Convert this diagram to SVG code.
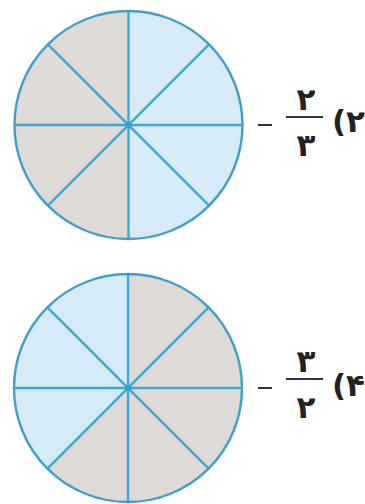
<svg xmlns="http://www.w3.org/2000/svg" width="365" height="504" viewBox="0 0 365 504">
<style>
.gray{fill:#dedad8}
.blue{fill:#d6ebf7}
.ln{stroke:#3fa7d1;stroke-width:2.4;fill:none}
.rim{stroke:#3f9fc8;stroke-width:2.4;fill:none}
.dot{fill:#2aa4d2}
.t{font-family:"DejaVu Sans",sans-serif;font-weight:bold;fill:#222;text-anchor:middle;font-size:31px}
.r{text-anchor:end}
.bar{stroke:#333;stroke-width:2}
</style>
<rect width="365" height="504" fill="#ffffff"/>
<g id="circle1">
<path class="gray" d="M128.5,125 L128.5,11 A114,114 0 0 0 128.5,239 Z"/>
<path class="blue" d="M128.5,125 L128.5,11 A114,114 0 0 1 128.5,239 Z"/>
<g class="ln">
<line x1="128.5" y1="11" x2="128.5" y2="239"/>
<line x1="14.5" y1="125" x2="242.5" y2="125"/>
<line x1="47.9" y1="44.4" x2="209.1" y2="205.6"/>
<line x1="209.1" y1="44.4" x2="47.9" y2="205.6"/>
</g>
<circle class="rim" cx="128.5" cy="125" r="114"/>
<circle class="dot" cx="128.5" cy="125" r="3"/>
</g>
<g id="label1">
<line class="bar" x1="258" y1="125" x2="272" y2="125" stroke-width="3"/>
<line class="bar" x1="286" y1="117" x2="323" y2="117"/>
<text class="t" x="306" y="110">۲</text>
<text class="t" x="306" y="156">۳</text>
<text class="t r" x="365" y="132">(۲</text>
</g>
<g id="circle2">
<path class="gray" d="M128,388 L128,274 A114,114 0 1 1 47.4,468.6 Z"/>
<path class="blue" d="M128,388 L47.4,468.6 A114,114 0 0 1 128,274 Z"/>
<g class="ln">
<line x1="128" y1="274" x2="128" y2="502"/>
<line x1="14" y1="388" x2="242" y2="388"/>
<line x1="47.4" y1="307.4" x2="208.6" y2="468.6"/>
<line x1="208.6" y1="307.4" x2="47.4" y2="468.6"/>
</g>
<circle class="rim" cx="128" cy="388" r="114"/>
<circle class="dot" cx="128" cy="388" r="3"/>
</g>
<g id="label2">
<line class="bar" x1="258" y1="388" x2="272" y2="388" stroke-width="3"/>
<line class="bar" x1="286" y1="379" x2="323" y2="379"/>
<text class="t" x="306" y="372">۳</text>
<text class="t" x="306" y="418">۲</text>
<text class="t r" x="365" y="396">(۴</text>
</g>
</svg>
